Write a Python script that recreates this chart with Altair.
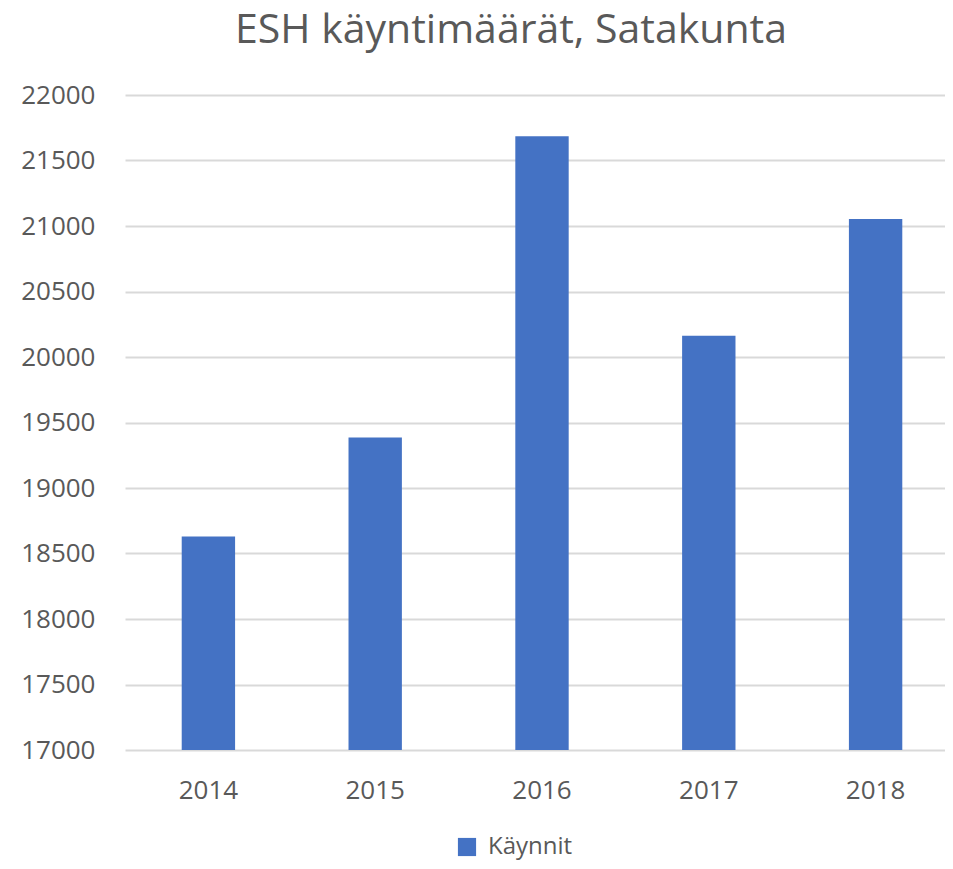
import altair as alt
import pandas as pd

years = ["2014", "2015", "2016", "2017", "2018"]
visits = [18630, 19385, 21685, 20163, 21054]
series = ["Käynnit"] * len(years)

df = pd.DataFrame({"Vuosi": years, "Käynnit": visits, "Sarja": series})

FONT = "Open Sans"
GREY = "#595959"

chart = (
    alt.Chart(df)
    .mark_bar(color="#4472C4", clip=True)
    .encode(
        x=alt.X(
            "Vuosi:N",
            sort=years,
            scale=alt.Scale(range=[-2, 832], paddingInner=0.68, paddingOuter=0.34),
            axis=alt.Axis(
                title=None, labelAngle=0, ticks=False, domain=False,
                labelFontSize=26, labelColor=GREY, labelFont=FONT, labelPadding=27,
            ),
        ),
        y=alt.Y(
            "Käynnit:Q",
            scale=alt.Scale(domain=[17000, 22000], nice=False, zero=False),
            axis=alt.Axis(
                title=None, values=list(range(17000, 22001, 500)), ticks=False,
                domain=False, gridColor="#D9D9D9", gridWidth=2,
                labelFontSize=26, labelColor=GREY, labelFont=FONT, labelPadding=32,
                format="d",
            ),
        ),
        color=alt.Color(
            "Sarja:N",
            scale=alt.Scale(range=["#4472C4"]),
            legend=alt.Legend(
                title=None, orient="none", legendX=328, legendY=740,
                symbolType="square", symbolSize=330, symbolStrokeWidth=0,
                labelFontSize=24, labelColor=GREY, labelFont=FONT, labelOffset=9,
            ),
        ),
    )
    .properties(
        width=818,
        height=655,
        autosize=alt.AutoSizeParams(type="none"),
        padding={"left": 119, "top": 87, "right": 0, "bottom": 111},
        title=alt.TitleParams(
            "ESH käyntimäärät, Satakunta", fontSize=41, font=FONT, color=GREY,
            fontWeight="normal", anchor="middle", dx=-25, offset=30,
        ),
    )
    .configure_view(stroke=None)
)

chart.save("out.html", embed_options={"renderer": "svg", "actions": False})
